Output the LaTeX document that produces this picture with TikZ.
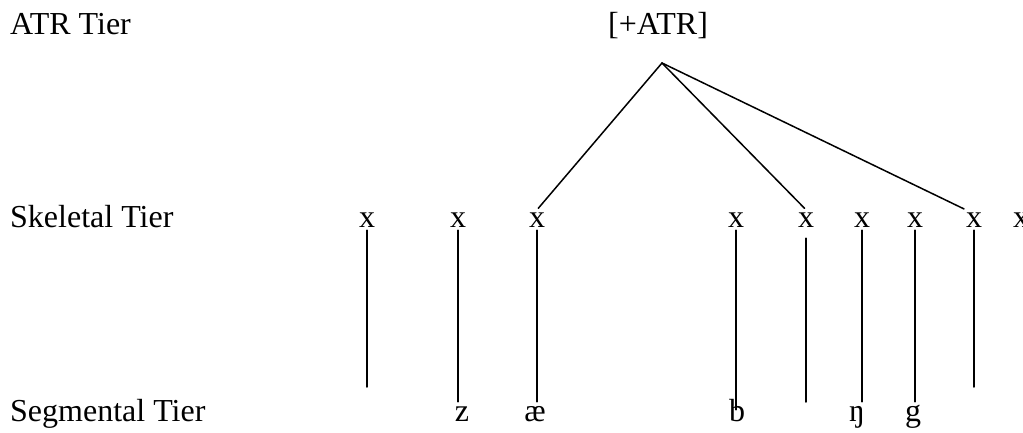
\documentclass[tikz,border=0pt]{standalone}
\usepackage{fontspec}
\setmainfont{Liberation Serif}
\begin{document}
\begin{tikzpicture}[x=1pt,y=-1pt, line join=round, line cap=round, font=\fontsize{32}{38}\selectfont,
	tier/.style={anchor=base west, inner sep=0pt},
	skel/.style={anchor=base, text height=14pt, inner xsep=0pt, inner ysep=3pt},
	seg/.style={anchor=base, text height=14pt, inner xsep=0pt, inner ysep=5pt},
	assoc/.style={line width=1.5pt}]
	\useasboundingbox (0,0) rectangle (1023,433);
	\def\ytop{35} \def\yskel{227} \def\yseg{421} % base lines
	\node[tier] (atrtier) at (10,\ytop) {ATR Tier};
	\node[tier] (skeltier) at (10,\yskel) {Skeletal Tier};
	\node[tier] (segtier) at (10,\yseg) {Segmental Tier};
	\node[anchor=base, inner sep=0pt] (atr) at (658,\ytop) {[+ATR]};
	\coordinate (apex) at (662,63);
	\foreach \n/\px in {1/367,2/458,3/537,4/736,5/806,6/862,7/915,8/974,9/1021}
		\node[skel] (x\n) at (\px,\yskel) {x};
	\node[seg] (z) at (462,\yseg) {z};
	\node[seg] (ae) at (535,\yseg) {æ};
	\node[seg] (b) at (737,\yseg) {b};
	\node[seg] (eng) at (857,\yseg) {ŋ};
	\node[seg] (g) at (913,\yseg) {g};
	% spreading of [+ATR]
	\draw[assoc, shorten >=2pt] (apex)--(x3.north);
	\draw[assoc, shorten >=2pt] (apex)--(x5.north);
	\draw[assoc, shorten >=2pt] (apex)--(x8.north west);
	% skeleton to segments
	\coordinate (e1) at (x1.south |- 0,387);
	\coordinate (e5) at (x5.south |- 0,402);
	\coordinate (e8) at (x8.south |- 0,387);
	\draw[assoc] (x1.south)--(e1);
	\draw[assoc] (x2.south)--(x2.south |- z.north);
	\draw[assoc] (x3.south)--(x3.south |- ae.north);
	\draw[assoc, shorten >=-8pt] (x4.south)--(x4.south |- b.north);
	\draw[assoc, shorten <=8pt] (x5.south)--(e5);
	\draw[assoc] (x6.south)--(x6.south |- eng.north);
	\draw[assoc] (x7.south)--(x7.south |- g.north);
	\draw[assoc] (x8.south)--(e8);
\end{tikzpicture}
\end{document}
